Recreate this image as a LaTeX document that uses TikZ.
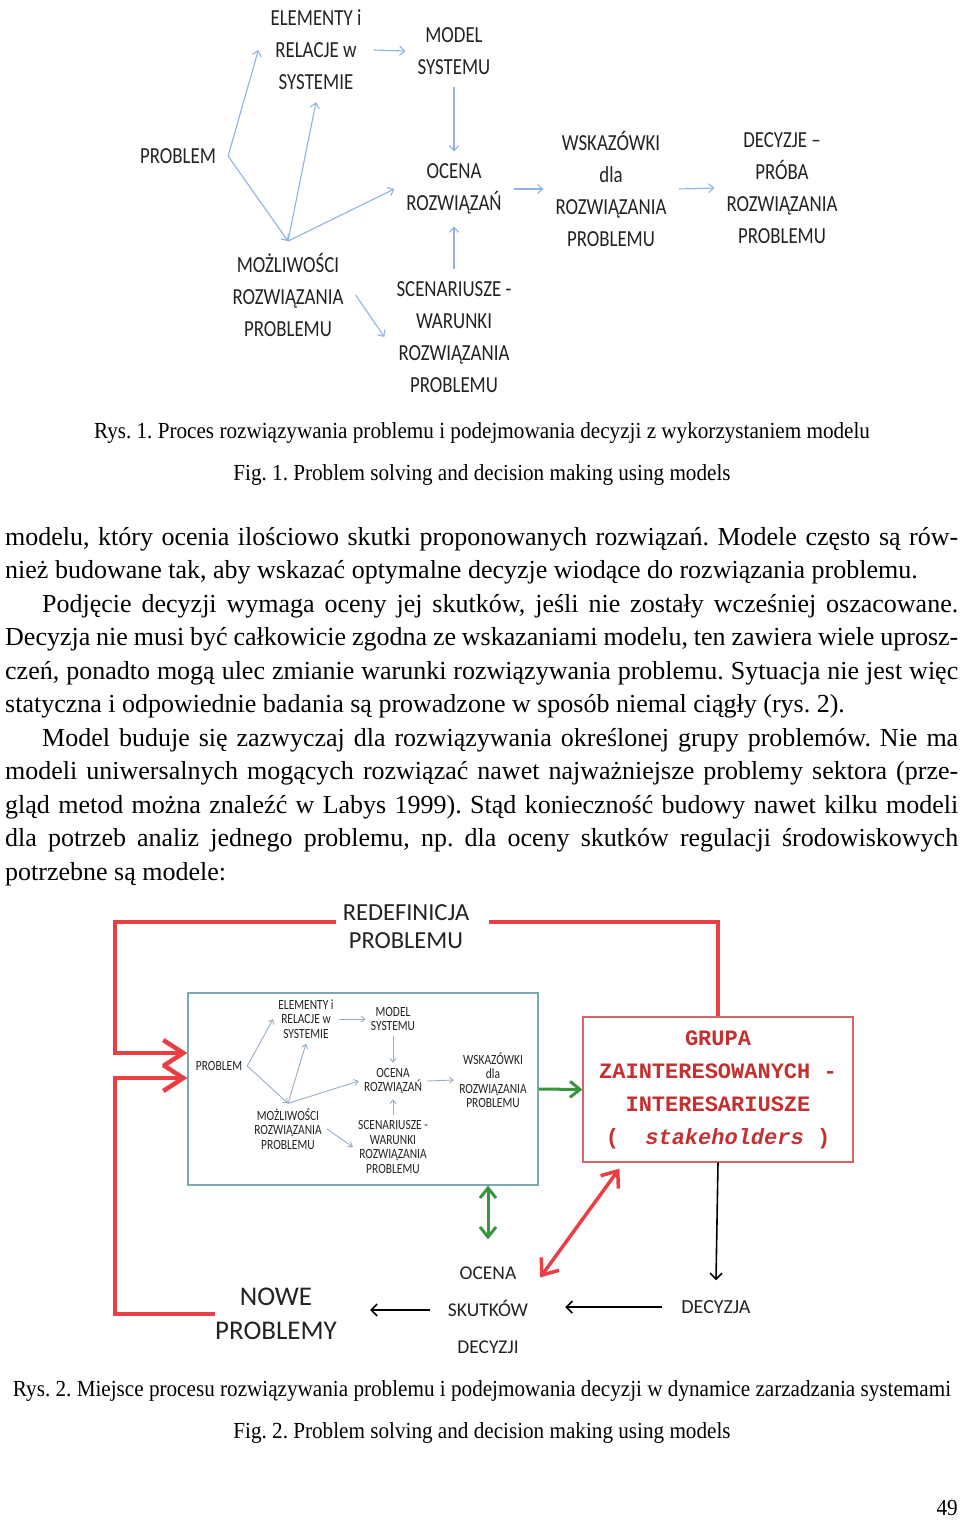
\documentclass[tikz,border=0pt]{standalone}
\usepackage{fontspec}
\setmainfont{Liberation Serif}
\newfontfamily\capfont[FakeStretch=0.92]{Liberation Serif}
\newfontfamily\diafont[FakeStretch=0.82]{Carlito}
\newfontfamily\labfont{Carlito}
\newfontfamily\grpfont{Liberation Mono}
\usepackage{tikz}
\usetikzlibrary{arrows.meta, positioning, calc}
\frenchspacing

\definecolor{linkblue}{RGB}{141,180,226}
\definecolor{ilinkblue}{RGB}{150,175,200}
\definecolor{boxteal}{RGB}{122,171,181}
\definecolor{fbred}{RGB}{232,62,68}
\definecolor{grpred}{RGB}{196,48,48}
\definecolor{grpedge}{RGB}{214,100,100}
\definecolor{okgreen}{RGB}{58,150,62}
\definecolor{inktext}{RGB}{35,35,35}

\tikzstyle{lab}      = [align=center, inner sep=12pt, text=inktext, font=\diafont\fontsize{23}{32}\selectfont]
\tikzstyle{ilab}     = [align=center, inner sep=5pt, text=inktext, font=\diafont\fontsize{14}{14.5}\selectfont]
\tikzstyle{biglab}   = [align=center, inner sep=0pt, text=inktext]
\tikzstyle{link}     = [linkblue, line width=1.1pt, -{Straight Barb[length=5pt,width=9pt]}]
\tikzstyle{ilink}    = [ilinkblue, line width=0.9pt, -{Straight Barb[length=4pt,width=6pt]}]
\tikzstyle{fback}    = [fbred, line width=4.5pt]
\tikzstyle{grn}      = [okgreen, line width=3pt]
\tikzstyle{blk}      = [black, line width=1.6pt, -{Straight Barb[length=6pt,width=12pt]}]
\tikzstyle{bodyline} = [anchor=base west, inner sep=0pt, font=\fontsize{26}{33.5}\selectfont]
\tikzstyle{caption}  = [inner sep=0pt, font=\capfont\fontsize{23}{28}\selectfont]

\newcommand{\fullline}[1]{\hbox to 953pt{#1}}
\newcommand{\indline}[1]{\hbox to 916pt{#1}}

\begin{document}
\begin{tikzpicture}[x=1pt, y=-1pt]
  \path[use as bounding box, fill=white] (0,0) rectangle (960,1521);

  % Rys. 1
  \node[lab] (prob)  at (178,156) {PROBLEM};
  \node[lab] (elem)  at (316,50)  {ELEMENTY i\\RELACJE w\\SYSTEMIE};
  \node[lab] (model) at (454,51)  {MODEL\\SYSTEMU};
  \node[lab] (ocena) at (454,189) {OCENA\\ROZWIĄZAŃ};
  \node[lab] (wsk)   at (611,189) {WSKAZÓWKI\\dla\\ROZWIĄZANIA\\PROBLEMU};
  \node[lab] (dec)   at (782,188) {DECYZJE –\\PRÓBA\\ROZWIĄZANIA\\PROBLEMU};
  \node[lab] (mozl)  at (288,295) {MOŻLIWOŚCI\\ROZWIĄZANIA\\PROBLEMU};
  \node[lab] (scen)  at (454,337) {SCENARIUSZE -\\WARUNKI\\ROZWIĄZANIA\\PROBLEMU};

  \draw[link] (prob.east) -- (elem.west);
  \draw[link] (prob.east) -- (mozl.north);
  \draw[link] (mozl.north) -- (elem.south);
  \draw[link] (mozl.north) -- (ocena.west);
  \draw[link] (elem.east) -- (model.west);
  \draw[link] (model.south) -- (ocena.north);
  \draw[link] (scen.north) -- (ocena.south);
  \draw[link] (mozl.east) -- (scen.west);
  \draw[link] (ocena.east) -- (wsk.west);
  \draw[link] (wsk.east) -- (dec.west);

  \node[caption] (cap1) at (482,433) {Rys. 1. Proces rozwiązywania problemu i podejmowania decyzji z wykorzystaniem modelu};
  \node[caption] (fig1) at (482,475) {Fig. 1. Problem solving and decision making using models};

  % body text
  \node[bodyline] (t1)  at (5,545)   {\fullline{modelu, który ocenia ilościowo skutki proponowanych rozwiązań. Modele często są rów-}};
  \node[bodyline] (t2)  at (5,578.5) {nież budowane tak, aby wskazać optymalne decyzje wiodące do rozwiązania problemu.};
  \node[bodyline] (t3)  at (42,612)  {\indline{Podjęcie decyzji wymaga oceny jej skutków, jeśli nie zostały wcześniej oszacowane.}};
  \node[bodyline] (t4)  at (5,645.5) {\fullline{Decyzja nie musi być całkowicie zgodna ze wskazaniami modelu, ten zawiera wiele uprosz-}};
  \node[bodyline] (t5)  at (5,679)   {\fullline{czeń, ponadto mogą ulec zmianie warunki rozwiązywania problemu. Sytuacja nie jest więc}};
  \node[bodyline] (t6)  at (5,712.5) {statyczna i odpowiednie badania są prowadzone w sposób niemal ciągły (rys. 2).};
  \node[bodyline] (t7)  at (42,746)  {\indline{Model buduje się zazwyczaj dla rozwiązywania określonej grupy problemów. Nie ma}};
  \node[bodyline] (t8)  at (5,779.5) {\fullline{modeli uniwersalnych mogących rozwiązać nawet najważniejsze problemy sektora (prze-}};
  \node[bodyline] (t9)  at (5,813)   {\fullline{gląd metod można znaleźć w Labys 1999). Stąd konieczność budowy nawet kilku modeli}};
  \node[bodyline] (t10) at (5,846.5) {\fullline{dla potrzeb analiz jednego problemu, np. dla oceny skutków regulacji środowiskowych}};
  \node[bodyline] (t11) at (5,880)   {potrzebne są modele:};

  % Rys. 2
  \node[draw=boxteal, line width=1.2pt, minimum width=350pt, minimum height=192pt, inner sep=0pt] (inbox) at (363,1089) {};
  \node[ilab] (iprob)  at (219,1066) {PROBLEM};
  \node[ilab] (ielem)  at (306,1019) {ELEMENTY i\\RELACJE w\\SYSTEMIE};
  \node[ilab] (imodel) at (393,1019) {MODEL\\SYSTEMU};
  \node[ilab] (iocena) at (393,1081) {OCENA\\ROZWIĄZAŃ};
  \node[ilab] (iwsk)   at (493,1080) {WSKAZÓWKI\\dla\\ROZWIĄZANIA\\PROBLEMU};
  \node[ilab] (imozl)  at (288,1129) {MOŻLIWOŚCI\\ROZWIĄZANIA\\PROBLEMU};
  \node[ilab] (iscen)  at (393,1147) {SCENARIUSZE -\\WARUNKI\\ROZWIĄZANIA\\PROBLEMU};

  \draw[ilink] (iprob.east) -- (ielem.west);
  \draw[ilink] (iprob.east) -- (imozl.north);
  \draw[ilink] (imozl.north) -- (ielem.south);
  \draw[ilink] (imozl.north) -- (iocena.west);
  \draw[ilink] (ielem.east) -- (imodel.west);
  \draw[ilink] (imodel.south) -- (iocena.north);
  \draw[ilink] (iscen.north) -- (iocena.south);
  \draw[ilink] (imozl.east) -- (iscen.west);
  \draw[ilink] (iocena.east) -- (iwsk.west);

  \node[draw=grpedge, line width=1.2pt, minimum width=270pt, minimum height=145pt, align=center,
        text=grpred, font=\grpfont\bfseries\fontsize{22}{33}\selectfont] (grupa) at (718,1089.5)
        {GRUPA\\ZAINTERESOWANYCH -\\INTERESARIUSZE\\(\ \ \textit{stakeholders}\ )};

  \node[biglab, font=\labfont\fontsize{24.5}{28}\selectfont] (redef)   at (406,927)  {REDEFINICJA\\PROBLEMU};
  \node[biglab, font=\labfont\fontsize{27}{34}\selectfont]   (nowe)    at (276,1314) {NOWE\\PROBLEMY};
  \node[biglab, font=\labfont\fontsize{19.5}{37}\selectfont] (ocenad)  at (488,1310) {OCENA\\SKUTKÓW\\DECYZJI};
  \node[biglab, font=\labfont\fontsize{20}{24}\selectfont]   (decyzja) at (716,1307) {DECYZJA};

  \coordinate (cornTL) at (115,922);
  \coordinate (cornBL) at (115,1314);

  \draw[fback] (grupa.north) |- ($(redef.east |- cornTL)+(20,0)$);
  \draw[fback, -{Straight Barb[length=20pt,width=26pt]}] ($(redef.west |- cornTL)+(-7,0)$) -- (cornTL) |- ($(inbox.west)+(0,-36)$);
  \draw[fback, -{Straight Barb[length=20pt,width=26pt]}] (nowe.west) -- (cornBL) |- ($(inbox.west)+(0,-11)$);
  \draw[fback, line width=3.5pt, {Straight Barb[length=14pt,width=22pt]}-{Straight Barb[length=14pt,width=22pt]}]
    ($(grupa.south west)+(37,6)$) -- ($(ocenad.north east)+(12,11)$);

  \draw[grn, {Straight Barb[length=10pt,width=16pt]}-{Straight Barb[length=10pt,width=16pt]}]
    (inbox.south -| ocenad.north) -- ($(ocenad.north)+(0,-27)$);
  \draw[grn, -{Straight Barb[length=10pt,width=16pt]}] (inbox.east) -- (grupa.west);

  \draw[blk] (grupa.south) -- ($(decyzja.north)+(0,-20)$);
  \draw[blk] ($(decyzja.west)+(-19,0)$) -- ($(ocenad.east |- decyzja.west)+(37,0)$);
  \draw[blk] ($(ocenad.west)+(-18,0)$) -- ($(nowe.east |- ocenad.west)+(33,0)$);

  \node[caption] (cap2) at (482,1391) {Rys. 2. Miejsce procesu rozwiązywania problemu i podejmowania decyzji w dynamice zarzadzania systemami};
  \node[caption] (fig2) at (482,1433) {Fig. 2. Problem solving and decision making using models};
  \node[caption, anchor=east] (pnum) at (958,1508) {49};
\end{tikzpicture}
\end{document}
